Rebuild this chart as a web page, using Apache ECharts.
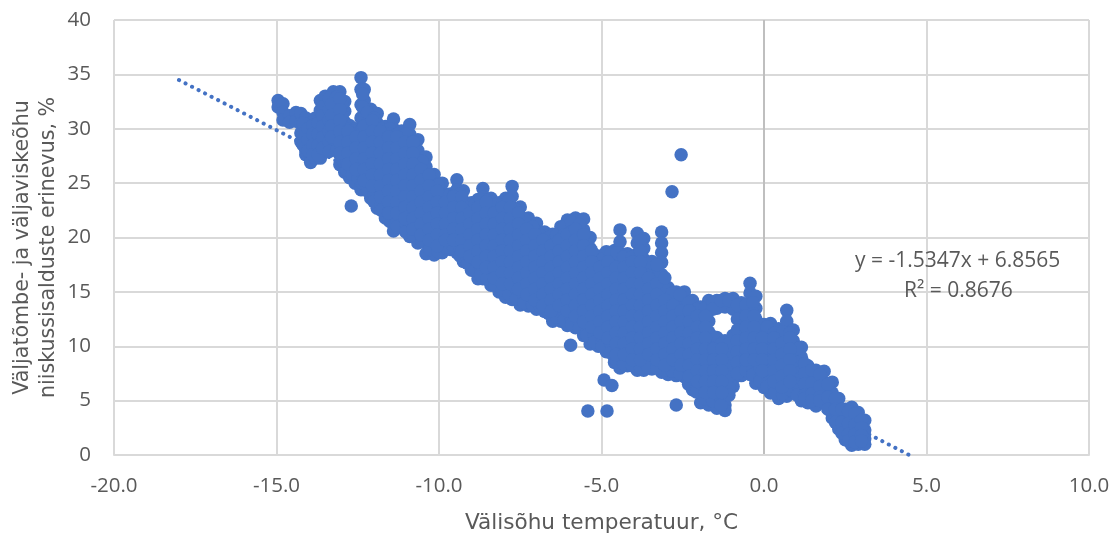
<!DOCTYPE html>
<html>
<head>
<meta charset="utf-8">
<style>
html, body { margin: 0; padding: 0; background: #fff; }
#chart { width: 1119px; height: 537px; }
</style>
<script src="https://cdn.jsdelivr.net/npm/echarts@6/dist/echarts.min.js"></script>
</head>
<body>
<div id="chart"></div>
<script>
// x tick labels are fixed to one decimal, like the source sheet
var xTicks = [-20, -15, -10, -5, 0, 5, 10];
var yTicks = [0, 5, 10, 15, 20, 25, 30, 35, 40];

// each row: temperature, then the humidity differences read at that temperature
var coldBand = [
    [-14.95, 32.6, 32.0],
    [-14.8, 32.3, 31.5, 30.8],
    [-14.6, 31.2, 30.6],
    [-14.4, 31.5, 30.7],
    [-14.25, 31.4, 30.5, 29.6, 28.8],
    [-14.1, 31, 30, 29, 28, 27.6],
    [-13.95, 30.5, 29.5, 28.5, 27.5, 26.9],
    [-13.8, 31, 30, 29, 28.1, 27.3],
    [-13.65, 32.6, 31.7, 30.8, 29.9, 28.9, 28, 27.3],
    [-13.5, 33, 32, 31, 30, 29.2, 28.2],
    [-13.25, 33.4, 32.4, 31.4, 30.4, 29.4, 28.4],
    [-13.05, 33.4, 32.5, 31.5, 30.5, 29.5, 28.5, 27.6, 26.7],
    [-12.9, 32.5, 31.6, 30.6, 29.6, 28.6, 27.6, 26.8, 26],
    [-12.75, 30.3, 29.3, 28.3, 27.3, 26.3, 25.5],
    [-12.58, 30, 29, 28, 27, 26, 25],
    [-12.4, 34.7, 33.6, 32.2, 31, 30, 29, 28, 27, 26, 25, 24.4],
    [-12.3, 33.6, 32.6, 31.5, 30.5, 29.5, 28.5, 27.5, 26.5, 25.5, 24.4],
    [-12.1, 31.8, 30.8, 29.8, 28.8, 27.8, 26.8, 25.8, 24.8, 23.6],
    [-11.9, 31.4, 30.5, 29.5, 28.5, 27.5, 26.5, 25.5, 24.5, 23.5, 22.7],
    [-11.65, 30.2, 29.2, 28.2, 27.2, 26.2, 25.2, 24.2, 23.2, 22.4, 21.8],
    [-11.4, 30.9, 30, 29, 28, 27, 26, 25, 24, 23, 22, 21.2, 20.6],
    [-11.15, 29.8, 28.8, 27.8, 26.8, 25.8, 24.8, 23.8, 22.8, 21.8, 20.9],
    [-10.9, 30.4, 29.5, 28.5, 27.5, 26.5, 25.5, 24.5, 23.5, 22.5, 21.5, 20.6, 20.1],
    [-10.65, 29, 28, 27, 26, 25, 24, 23, 22, 21, 20, 19.5],
    [-10.4, 27.4, 26.5, 25.5, 24.5, 23.5, 22.5, 21.5, 20.5, 19.5, 18.5],
    [-10.15, 25.8, 25, 24, 23, 22, 21, 20, 19, 18.4],
    [-9.9, 25, 24.2, 23.2, 22.2, 21.2, 20.2, 19.4, 18.6],
    [-9.65, 24, 23, 22, 21, 20, 19, 18.9],
    [-9.45, 25.3, 24.4, 23.5, 22.5, 21.5, 20.5, 19.5, 18.6],
    [-9.25, 24.3, 23.2, 22.2, 21.2, 20.2, 19.2, 18.4, 17.8]
];
var midBand = [
    [-9, 23.2, 22.4, 21.5, 20.5, 19.5, 18.5, 17.7, 17],
    [-8.8, 23.5, 22.6, 21.6, 20.6, 19.6, 18.6, 17.6, 16.8, 16.2],
    [-8.65, 24.5, 23.7, 22.8, 21.8, 20.8, 19.8, 18.8, 17.8, 16.9, 16.2],
    [-8.4, 23.6, 22.6, 21.6, 20.6, 19.6, 18.6, 17.6, 16.6, 15.6],
    [-8.15, 23.2, 22.2, 21.2, 20.2, 19.2, 18.2, 17.2, 16.2, 15.5, 15],
    [-7.95, 23.6, 22.7, 21.7, 20.7, 19.7, 18.7, 17.7, 16.7, 15.7, 15, 14.5],
    [-7.75, 24.7, 23.8, 22.8, 21.8, 20.8, 19.8, 18.8, 17.8, 16.8, 15.8, 14.9, 14.3],
    [-7.5, 22.8, 21.8, 20.8, 19.8, 18.8, 17.8, 16.8, 15.8, 14.8, 13.8],
    [-7.25, 21.8, 21, 20, 19, 18, 17, 16, 15, 14.2, 13.7],
    [-7, 21.3, 20.5, 19.5, 18.5, 17.5, 16.5, 15.5, 14.5, 13.4],
    [-6.75, 20.5, 19.7, 18.7, 17.7, 16.7, 15.7, 14.7, 13.9, 13.2],
    [-6.5, 20.3, 19.3, 18.3, 17.3, 16.3, 15.3, 14.3, 13.3, 12.3],
    [-6.25, 21, 20, 19, 18, 17, 16, 15, 14, 13, 12.3],
    [-6.05, 21.6, 20.7, 19.7, 18.7, 17.7, 16.7, 15.7, 14.7, 13.7, 12.7, 11.9],
    [-5.8, 21.8, 20.9, 20, 19, 18, 17, 16, 15, 14, 13, 12.2, 11.7],
    [-5.55, 21.7, 20.7, 19.7, 18.7, 17.7, 16.7, 15.7, 14.7, 13.7, 12.7, 11.7, 11],
    [-5.35, 20, 19, 18, 17, 16, 15, 14, 13, 12, 11, 10.2],
    [-5.1, 18.3, 17.4, 16.4, 15.4, 14.4, 13.4, 12.4, 11.4, 10.6, 10],
    [-4.85, 18.7, 17.8, 16.8, 15.8, 14.8, 13.8, 12.8, 11.8, 10.8, 10, 9.5],
    [-4.6, 18.8, 17.8, 16.8, 15.8, 14.8, 13.8, 12.8, 11.8, 10.8, 9.8, 9, 8.5],
    [-4.43, 20.7, 19.6, 18.6, 17.6, 16.6, 15.6, 14.6, 13.6, 12.6, 11.6, 10.6, 9.6, 8.7, 8],
    [-4.2, 18.5, 17.5, 16.5, 15.5, 14.5, 13.5, 12.5, 11.5, 10.5, 9.5, 8.8, 8.2],
    [-3.9, 20.4, 19.5, 18.5, 17.5, 16.5, 15.5, 14.5, 13.5, 12.5, 11.5, 10.5, 9.5, 8.6, 7.8],
    [-3.7, 19.9, 19, 18, 17, 16, 15, 14, 13, 12, 11, 10, 9, 8.3, 7.8],
    [-3.45, 17.8, 16.8, 15.8, 14.8, 13.8, 12.8, 11.8, 10.8, 9.8, 8.8, 7.9],
    [-3.15, 20.5, 19.5, 18.6, 17.7, 16.6, 15.6, 14.6, 13.6, 12.6, 11.6, 10.6, 9.6, 8.6, 7.6],
    [-2.95, 15.4, 14.5, 13.5, 12.5, 11.5, 10.5, 9.5, 8.5, 7.4],
    [-2.7, 15, 14.1, 13.1, 12.1, 11.1, 10.1, 9.1, 8.1, 7.3],
    [-2.45, 15, 14, 13, 12, 11, 10, 9, 8, 7.2],
    [-2.2, 14.2, 13.3, 12.3, 11.3, 10.3, 9.3, 8.3, 7.3, 6.5, 6]
];
var warmBand = [
    [-1.95, 13.6, 12.7, 11.7, 10.7, 9.7, 8.7, 7.7, 6.7, 5.7, 4.8],
    [-1.7, 14.2, 13.3, 12.3, 11.3, 10.3, 9.3, 8.3, 7.3, 6.3, 5.4, 4.6],
    [-1.45, 14.2, 13.5, 10.8, 9.8, 8.8, 7.8, 6.8, 5.8, 4.9, 4.3],
    [-1.2, 14.4, 13.6, 10.5, 9.5, 8.5, 7.5, 6.5, 5.5, 4.6, 4.1],
    [-0.95, 14.4, 13.4, 11, 10, 9, 8, 7, 6.3],
    [-0.7, 14, 13, 12, 11, 10, 9, 8, 7.3],
    [-0.43, 15.8, 14.9, 14, 13, 12, 11, 10, 9, 8.2, 7.4],
    [-0.25, 14.6, 13.5, 12.5, 11.5, 10.5, 9.5, 8.5, 7.5, 6.6],
    [0, 12, 11.2, 10.2, 9.2, 8.2, 7.2, 6.2],
    [0.2, 12.1, 11, 10, 9, 8, 7, 6.2, 5.7],
    [0.45, 11.6, 10.6, 9.6, 8.6, 7.6, 6.6, 5.8, 5.2],
    [0.7, 13.3, 12.3, 11.2, 10.2, 9.2, 8.2, 7.2, 6.2, 5.4],
    [0.9, 11.5, 10.5, 9.5, 8.5, 7.5, 6.6, 5.8],
    [1.15, 9.9, 9, 8, 7, 6, 5],
    [1.35, 8.2, 7.3, 6.4, 5.5, 4.8],
    [1.6, 7.8, 6.9, 6, 5.2, 4.5],
    [1.85, 7.7, 6.7, 5.7, 4.8],
    [2.1, 6.7, 5.7, 4.7, 3.9, 3.4],
    [2.3, 5.2, 4.3, 3.3, 2.4],
    [2.5, 4.2, 3.3, 2.4, 1.4],
    [2.7, 4.4, 3.4, 2.4, 1.5, 0.9],
    [2.9, 3.9, 3, 2, 1],
    [3.1, 3.2, 2.3, 1.5, 1]
];
// readings that sit between the columns above, inside the dense cloud
var coldFill = [
    [-14.18, 30.5, 29.5, 28.5], [-14.03, 30, 29, 28], [-13.88, 30.3, 29.5, 28.5, 27.6],
    [-13.72, 30.5, 29.5, 28.5, 27.6], [-13.58, 32, 31.2, 30.2, 29.2, 28.2], [-13.38, 32.8, 31.8, 30.8, 29.8, 28.8, 27.9],
    [-13.15, 32.9, 31.9, 30.9, 29.9, 28.9, 28], [-12.98, 32.3, 31.2, 30.2, 29.2, 28.2, 27.2],
    [-12.83, 30, 29, 28, 27, 26.2], [-12.66, 29.8, 28.8, 27.8, 26.8, 25.8],
    [-12.49, 29.6, 28.5, 27.5, 26.5, 25.5], [-12.35, 33.2, 32, 31, 30, 29, 28, 27, 26, 25],
    [-12.2, 31.5, 30.3, 29.3, 28.3, 27.3, 26.3, 25.3, 24.3], [-12, 31, 30, 29, 28, 27, 26, 25, 24, 23.3],
    [-11.78, 30, 29, 28, 27, 26, 25, 24, 23, 22.5], [-11.52, 30, 29.5, 28.5, 27.5, 26.5, 25.5, 24.5, 23.5, 22.5, 21.5],
    [-11.28, 29.5, 28.5, 27.5, 26.5, 25.5, 24.5, 23.5, 22.5, 21.5, 21], [-11.02, 29.5, 28.3, 27.3, 26.3, 25.3, 24.3, 23.3, 22.3, 21.3, 20.5],
    [-10.78, 28.8, 28, 27, 26, 25, 24, 23, 22, 21, 20.2], [-10.52, 27, 26, 25, 24, 23, 22, 21, 20, 19.6],
    [-10.28, 25.5, 24.5, 23.5, 22.5, 21.5, 20.5, 19.5, 18.9], [-10.03, 24.8, 23.7, 22.7, 21.7, 20.7, 19.7, 18.7],
    [-9.78, 23.8, 22.7, 21.7, 20.7, 19.7, 19.1], [-9.55, 23.8, 23, 22, 21, 20, 19], [-9.35, 24, 23, 22, 21, 20, 19, 18.3],
    [-9.12, 23, 22, 21, 20, 19, 18, 17.6]
];
var midFill = [
    [-8.9, 23, 22, 21, 20, 19, 18, 17], [-8.72, 23.5, 22.3, 21.3, 20.3, 19.3, 18.3, 17.3, 16.6],
    [-8.52, 23.4, 22.2, 21.2, 20.2, 19.2, 18.2, 17.2, 16.2], [-8.28, 23, 22, 21, 20, 19, 18, 17, 16, 15.6],
    [-8.05, 23, 22.2, 21.2, 20.2, 19.2, 18.2, 17.2, 16.2, 15.2], [-7.85, 23.4, 22.3, 21.3, 20.3, 19.3, 18.3, 17.3, 16.3, 15.3, 14.8],
    [-7.62, 22.5, 21.3, 20.3, 19.3, 18.3, 17.3, 16.3, 15.3, 14.4], [-7.38, 21.7, 20.5, 19.5, 18.5, 17.5, 16.5, 15.5, 14.5, 14],
    [-7.12, 21, 20, 19, 18, 17, 16, 15, 14, 13.8], [-6.88, 20.2, 19.2, 18.2, 17.2, 16.2, 15.2, 14.2, 13.6],
    [-6.62, 20, 18.8, 17.8, 16.8, 15.8, 14.8, 13.8, 13], [-6.38, 20.2, 19.5, 18.5, 17.5, 16.5, 15.5, 14.5, 13.5, 12.7],
    [-6.15, 21, 20.2, 19.2, 18.2, 17.2, 16.2, 15.2, 14.2, 13.2, 12.4], [-5.92, 21.4, 20.5, 19.5, 18.5, 17.5, 16.5, 15.5, 14.5, 13.5, 12.5, 12],
    [-5.68, 21.2, 20.2, 19.2, 18.2, 17.2, 16.2, 15.2, 14.2, 13.2, 12.2, 11.7], [-5.45, 19.7, 18.5, 17.5, 16.5, 15.5, 14.5, 13.5, 12.5, 11.5, 11],
    [-5.22, 18, 17, 16, 15, 14, 13, 12, 11, 10.4], [-4.98, 18, 17.3, 16.3, 15.3, 14.3, 13.3, 12.3, 11.3, 10.3, 10],
    [-4.72, 18.5, 17.3, 16.3, 15.3, 14.3, 13.3, 12.3, 11.3, 10.3, 9.4], [-4.52, 18.6, 17.2, 16.2, 15.2, 14.2, 13.2, 12.2, 11.2, 10.2, 9.2, 8.6],
    [-4.32, 18.2, 17, 16, 15, 14, 13, 12, 11, 10, 9, 8.4], [-4.05, 18.2, 17, 16, 15, 14, 13, 12, 11, 10, 9, 8.2],
    [-3.8, 19.7, 18.5, 17.5, 16.5, 15.5, 14.5, 13.5, 12.5, 11.5, 10.5, 9.5, 8.5, 8], [-3.58, 17.6, 16.5, 15.5, 14.5, 13.5, 12.5, 11.5, 10.5, 9.5, 8.5, 8.1],
    [-3.3, 17.5, 16.3, 15.3, 14.3, 13.3, 12.3, 11.3, 10.3, 9.3, 8.3, 8], [-3.05, 15.3, 14, 13, 12, 11, 10, 9, 8, 7.8],
    [-2.82, 14.9, 13.7, 12.7, 11.7, 10.7, 9.7, 8.7, 7.7], [-2.58, 14.7, 13.5, 12.5, 11.5, 10.5, 9.5, 8.5, 7.5],
    [-2.32, 14, 12.9, 11.9, 10.9, 9.9, 8.9, 7.9, 6.9, 6.5]
];
var warmFill = [
    [-2.08, 13.4, 12.4, 11.2, 10.2, 9.2, 8.2, 7.2, 6.2, 5.8], [-1.82, 13.5, 12.2, 11.2, 10.2, 9.2, 8.2, 7.2, 6.2, 5.2],
    [-1.58, 14, 13.4, 10.9, 9.8, 8.8, 7.8, 6.8, 5.8, 5], [-1.32, 14.2, 10.2, 9.2, 8.2, 7.2, 6.2, 5.2, 4.6],
    [-1.08, 14.2, 10.2, 9.2, 8.2, 7.2, 6.2, 5.5], [-0.82, 13.8, 12.5, 11.5, 10.5, 9.5, 8.5, 7.5],
    [-0.56, 13.8, 12.5, 11.5, 10.5, 9.5, 8.5, 7.8], [-0.34, 14, 13, 12, 11, 10, 9, 8, 7.4],
    [-0.12, 12, 11, 10, 9, 8, 7, 6.8], [0.1, 11.8, 10.6, 9.6, 8.6, 7.6, 6.6, 6.3],
    [0.32, 11.2, 10.2, 9.2, 8.2, 7.2, 6.2, 5.7], [0.57, 11.3, 10.1, 9.1, 8.1, 7.1, 6.1, 5.6],
    [0.8, 11.2, 10, 9, 8, 7, 6], [1.02, 9.8, 8.5, 7.5, 6.5, 5.5],
    [1.25, 8.4, 7.5, 6.5, 5.5, 5.2], [1.47, 7.8, 6.6, 5.6, 5], [1.72, 7.4, 6.3, 5.3, 5],
    [1.97, 6.5, 5.3, 4.2], [2.2, 5.2, 4.2, 3], [2.4, 4.2, 3, 2], [2.6, 4, 2.9, 1.9, 1.3],
    [2.8, 3.8, 2.8, 1.9, 1.2], [3, 3.2, 2.5, 1.8, 1.3]
];
// core of the cloud, where the readings overlap completely
var coreFill = [
    [-13.3, 32.25, 31.25, 30.25, 29.25], [-13.05, 32.75, 31.75, 30.75, 29.75, 28.75, 27.75],
    [-12.8, 29.75, 28.75, 27.75, 26.75], [-12.55, 29.25, 28.25, 27.25, 26.25],
    [-12.3, 30.25, 29.25, 28.25, 27.25, 26.25, 25.25], [-12.05, 30.75, 29.75, 28.75, 27.75, 26.75, 25.75, 24.75],
    [-11.8, 29.75, 28.75, 27.75, 26.75, 25.75, 24.75, 23.75], [-11.55, 29.25, 28.25, 27.25, 26.25, 25.25, 24.25, 23.25, 22.25],
    [-11.3, 29.25, 28.25, 27.25, 26.25, 25.25, 24.25, 23.25, 22.25], [-11.05, 28.75, 27.75, 26.75, 25.75, 24.75, 23.75, 22.75, 21.75],
    [-10.8, 28.75, 27.75, 26.75, 25.75, 24.75, 23.75, 22.75, 21.75, 20.75], [-10.55, 26.25, 25.25, 24.25, 23.25, 22.25, 21.25, 20.25],
    [-10.3, 25.75, 24.75, 23.75, 22.75, 21.75, 20.75, 19.75], [-10.05, 24.25, 23.25, 22.25, 21.25, 20.25, 19.25],
    [-9.8, 23.25, 22.25, 21.25, 20.25, 19.75], [-9.55, 23.75, 22.75, 21.75, 20.75, 19.75],
    [-9.3, 23.75, 22.75, 21.75, 20.75, 19.75, 18.75], [-9.05, 22.25, 21.25, 20.25, 19.25, 18.25],
    [-8.8, 22.75, 21.75, 20.75, 19.75, 18.75, 17.75], [-8.55, 23.25, 22.25, 21.25, 20.25, 19.25, 18.25, 17.25],
    [-8.3, 22.25, 21.25, 20.25, 19.25, 18.25, 17.25, 16.25], [-8.05, 22.75, 21.75, 20.75, 19.75, 18.75, 17.75, 16.75, 15.75],
    [-7.8, 22.75, 21.75, 20.75, 19.75, 18.75, 17.75, 16.75, 15.75], [-7.55, 22.25, 21.25, 20.25, 19.25, 18.25, 17.25, 16.25, 15.25],
    [-7.3, 20.75, 19.75, 18.75, 17.75, 16.75, 15.75, 14.75], [-7.05, 20.25, 19.25, 18.25, 17.25, 16.25, 15.25, 14.25],
    [-6.8, 19.75, 18.75, 17.75, 16.75, 15.75, 14.75, 13.75], [-6.55, 19.25, 18.25, 17.25, 16.25, 15.25, 14.25, 13.25],
    [-6.3, 19.75, 18.75, 17.75, 16.75, 15.75, 14.75, 13.75], [-6.05, 20.25, 19.25, 18.25, 17.25, 16.25, 15.25, 14.25, 13.25],
    [-5.8, 20.75, 19.75, 18.75, 17.75, 16.75, 15.75, 14.75, 13.75, 12.75], [-5.55, 20.25, 19.25, 18.25, 17.25, 16.25, 15.25, 14.25, 13.25, 12.25],
    [-5.3, 18.75, 17.75, 16.75, 15.75, 14.75, 13.75, 12.75, 11.75], [-5.05, 17.25, 16.25, 15.25, 14.25, 13.25, 12.25, 11.25],
    [-4.8, 17.75, 16.75, 15.75, 14.75, 13.75, 12.75, 11.75, 10.75], [-4.55, 17.25, 16.25, 15.25, 14.25, 13.25, 12.25, 11.25, 10.25, 9.25],
    [-4.3, 17.25, 16.25, 15.25, 14.25, 13.25, 12.25, 11.25, 10.25, 9.25], [-4.05, 17.75, 16.75, 15.75, 14.75, 13.75, 12.75, 11.75, 10.75, 9.75, 8.75],
    [-3.8, 18.75, 17.75, 16.75, 15.75, 14.75, 13.75, 12.75, 11.75, 10.75, 9.75, 8.75], [-3.55, 16.25, 15.25, 14.25, 13.25, 12.25, 11.25, 10.25, 9.25],
    [-3.3, 15.75, 14.75, 13.75, 12.75, 11.75, 10.75, 9.75, 8.75], [-3.05, 14.25, 13.25, 12.25, 11.25, 10.25, 9.25, 8.25],
    [-2.8, 13.75, 12.75, 11.75, 10.75, 9.75, 8.75], [-2.55, 13.25, 12.25, 11.25, 10.25, 9.25, 8.25],
    [-2.3, 13.25, 12.25, 11.25, 10.25, 9.25, 8.25, 7.25], [-2.05, 12.75, 11.75, 10.75, 9.75, 8.75, 7.75, 6.75],
    [-1.8, 12.75, 11.75, 10.75, 9.75, 8.75, 7.75, 6.75, 5.75], [-1.55, 9.75, 8.75, 7.75, 6.75, 5.75],
    [-1.3, 9.75, 8.75, 7.75, 6.75, 5.75], [-0.55, 12.75, 11.75, 10.75, 9.75, 8.75],
    [-0.3, 12.75, 11.75, 10.75, 9.75, 8.75], [-0.05, 10.75, 9.75, 8.75, 7.75],
    [0.3, 10.75, 9.75, 8.75, 7.75, 6.75], [0.55, 10.25, 9.25, 8.25, 7.25, 6.25],
    [0.8, 10.75, 9.75, 8.75, 7.75, 6.75]
];
var outliers = [
    [-12.7, 22.9],
    [-5.95, 10.1],
    [-5.42, 4.05],
    [-4.92, 6.9],
    [-4.83, 4.05],
    [-4.68, 6.4],
    [-3.05, 16.3],
    [-2.83, 24.2],
    [-2.7, 4.6],
    [-2.55, 27.6]
];
// the fitted line's two ends
var trendX = [-18, 4.47];
var trendY = [34.48, 0];
var equationText = ['y = -1.5347x + 6.8565', 'R² = 0.8676'];

var blue = '#4472c4';
var grey = '#595959';
var gridGrey = '#d9d9d9';
var tickFont = 'Open Sans';
var titleFont = 'DejaVu Sans';

function flatten(rows) {
    var pts = [];
    rows.forEach(function (row) {
        for (var i = 1; i < row.length; i++) {
            pts.push([row[0], row[i]]);
        }
    });
    return pts;
}

var chart = echarts.init(document.getElementById('chart'), null, { renderer: 'canvas' });
var points = [coldBand, midBand, warmBand, coldFill, midFill, warmFill, coreFill].reduce(function (all, rows) {
    return all.concat(flatten(rows));
}, []).concat(outliers);

var option = {
    animation: false,
    grid: { left: 114, right: 30, top: 20, bottom: 82, outerBoundsMode: 'none' },
    textStyle: { fontFamily: tickFont },
    xAxis: {
        type: 'value',
        min: xTicks[0],
        max: xTicks[xTicks.length - 1],
        interval: 5,
        name: 'Välisõhu temperatuur, °C',
        nameLocation: 'middle',
        nameGap: 57,
        nameTextStyle: { color: grey, fontSize: 21.6, fontFamily: titleFont },
        axisLine: { onZero: false, lineStyle: { color: gridGrey, width: 2 } },
        axisTick: { show: false },
        axisLabel: {
            color: grey, fontSize: 20.5, margin: 21, fontFamily: tickFont,
            hideOverlap: false, showMinLabel: true, showMaxLabel: true,
            formatter: function (v) { return v.toFixed(1); }
        },
        splitLine: {
            show: true,
            lineStyle: {
                width: 2,
                color: xTicks.map(function (t) { return t === 0 ? '#bfbfbf' : gridGrey; })
            }
        }
    },
    yAxis: {
        type: 'value',
        min: yTicks[0],
        max: yTicks[yTicks.length - 1],
        interval: 5,
        name: 'Väljatõmbe- ja väljaviskeõhu\nniiskussisalduste erinevus, %',
        nameLocation: 'middle',
        nameRotate: 90,
        nameGap: 52,
        nameMoveOverlap: false,
        nameTextStyle: { color: grey, fontSize: 20.6, lineHeight: 26, fontFamily: titleFont, padding: [0, 20, 0, 0] },
        axisLine: { show: false },
        axisTick: { show: false },
        axisLabel: { color: grey, fontSize: 20.5, margin: 23, fontFamily: tickFont },
        splitLine: { show: true, lineStyle: { color: gridGrey, width: 2 } }
    },
    series: [
        {
            type: 'line',
            name: 'trend',
            data: [[trendX[0], trendY[0]], [trendX[1], trendY[1]]],
            showSymbol: false,
            symbol: 'none',
            lineStyle: { color: blue, width: 4, type: [0.1, 7.22], cap: 'round' },
            z: 2
        },
        {
            type: 'scatter',
            name: 'points',
            data: points,
            symbol: 'circle',
            symbolSize: 13.5,
            itemStyle: { color: blue, opacity: 1 },
            large: false,
            z: 3
        }
    ],
    graphic: [
        {
            type: 'text', left: 855, top: 251, z: 10,
            style: { text: equationText[0], fill: grey, font: '21px "Open Sans"' }
        },
        {
            type: 'text', left: 904, top: 281, z: 10,
            style: { text: equationText[1], fill: grey, font: '21px "Open Sans"' }
        }
    ]
};
chart.setOption(option);
</script>
</body>
</html>
